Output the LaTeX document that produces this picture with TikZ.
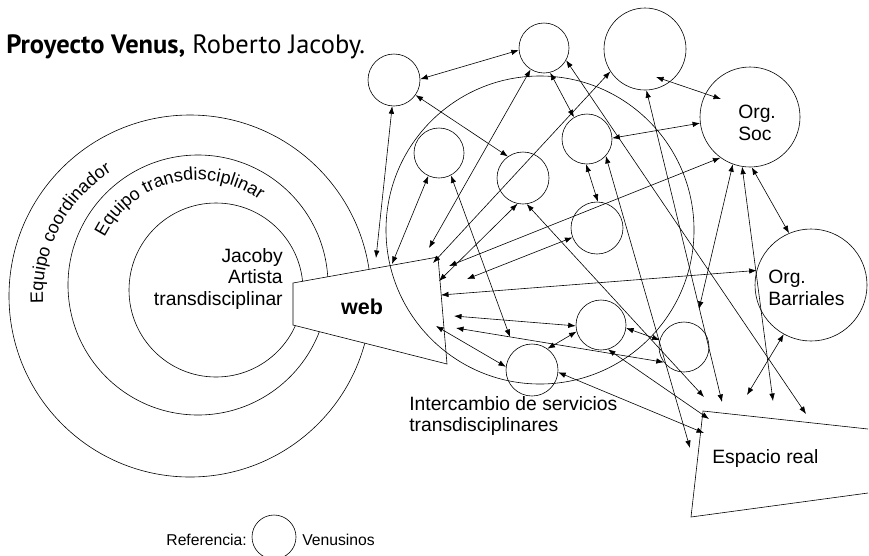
\documentclass[tikz,border=0pt]{standalone}
\usepackage{fontspec}
\setmainfont{Liberation Sans}
\newfontfamily\titlefont{PT Sans}
\usetikzlibrary{arrows.meta,decorations.text}

\tikzset{
  venus/.style={circle, draw, inner sep=0pt},
  link/.style={{Latex[length=7.5pt,width=5.5pt]}-{Latex[length=7.5pt,width=5.5pt]}},
  lbl/.style={font=\fontsize{19.3}{21.5}\selectfont, inner sep=0pt},
  legendtext/.style={font=\fontsize{15.7}{18}\selectfont, inner sep=0pt}
}

\begin{document}
\begin{tikzpicture}[x=1pt,y=-1pt,line width=0.6pt]
        \useasboundingbox (0,0) rectangle (869,555);

        % Draw the rings round the artist
        \node[venus, minimum size=362pt] (coordinador) at (190,296) {};
        \node[venus, minimum size=260pt] (equipo) at (198,285) {};
        \node[venus, minimum size=174pt] (artista) at (216,290) {};

        % Ring labels along the arcs
        \path[decorate, decoration={text along path,
            text={|\fontsize{18}{20}\selectfont|Equipo coordinador}}]
            plot[domain=177:250, samples=60] ({190+147*cos(\x)},{296+147*sin(\x)});
        \path[decorate, decoration={text along path,
            text={|\fontsize{18}{20}\selectfont|Equipo transdisciplinar}}]
            plot[domain=207:320, samples=60] ({198+105*cos(\x)},{285+105*sin(\x)});

        \node[lbl, align=right, anchor=east] (jacoby) at (283,279) {Jacoby\\Artista\\transdisciplinar};

        % Draw the web
        \draw[fill=white] (293,283) -- (438,257) -- (447,364) -- (293,325) -- cycle;
        \node[font=\bfseries\fontsize{21.5}{24}\selectfont, inner sep=0pt] (web) at (362,307) {web};

        % Draw the exchange circle and the Venusinos
        \node[venus, minimum size=308pt] (intercambio) at (540,230) {};
        \foreach \n/\x/\y/\d in {c1/394/80/52, c2/544/48/50, c3/645/49/82, c5/439/153/50,
                                 c6/523/178/52, c7/587/139/50, c8/597/228/52, c10/684/347/50,
                                 c11/601/325/50, c12/532/370/52} {
            \node[venus, minimum size=\d pt] (\n) at (\x,\y) {};
        }
        \node[venus, minimum size=100pt] (soc) at (750,117) {};
        \node[venus, minimum size=112pt] (barr) at (811,285) {};
        \node[lbl, align=left, anchor=west] (soclabel) at (738,123) {Org.\\Soc};
        \node[lbl, align=left, anchor=west] (barrlabel) at (768,288) {Org.\\Barriales};

        % Draw the real space
        \draw (868,429) -- (703,411) -- (691,517) -- (868,493);
        \node[lbl, anchor=west] (espacio) at (712,458) {Espacio real};

        % Free ends of the exchanges
        \coordinate (w1) at (376,258);
        \coordinate (w2) at (392,264);
        \coordinate (w3) at (510,337);
        \coordinate (w4) at (429,248);
        \coordinate (w5) at (433,263);
        \coordinate (w6) at (439,281);
        \coordinate (w7) at (467,279);
        \coordinate (w8) at (449,266);
        \coordinate (w10) at (441,295);
        \coordinate (w11) at (454,316);
        \coordinate (w12) at (456,328);
        \coordinate (w13) at (436,326);
        \coordinate (p1) at (699,309);
        \coordinate (h1) at (656,77);
        \coordinate (h2) at (721,99);
        \coordinate (e1) at (806,414);
        \coordinate (e2) at (722,402);
        \coordinate (e3) at (704,397);
        \coordinate (e4) at (690,448);
        \coordinate (e5) at (773,401);
        \coordinate (e6) at (747,395);
        \coordinate (e7) at (709,419);
        \coordinate (e8) at (704,433);

        % Draw the exchanges
        \foreach \a/\b in {c1.2/c2.185, c1.-35/c6.125, c1.-94/w1, c5.-115/w2, c5.-62/w3,
                           c2.-122/w4, c2.-76/c7.121, c2.-29/e1, c3.213/w5, h1/h2,
                           c3.-88/e2, c6.-102/w6, c6.-82/e3, c7.2/soc.187, c7.-92/c8.88,
                           c7.-42/e4, c8.201/w7, soc.234/w8, soc.250/p1, soc.261/e5,
                           soc.-88/barr.113, barr.165/w10, barr.241/e6, w11/c11.182,
                           w12/c10.217, w13/c12.173, c11.195/c12.54, c11.-7/c10.164,
                           c11.-74/e7, c12.-5/e8} {
            \draw[link] (\a) -- (\b);
        }

        \node[lbl, align=left, anchor=west] (intlabel) at (409,416) {Intercambio de servicios\\transdisciplinares};

        % Legend
        \node[venus, minimum size=44pt] (ref) at (274,537) {};
        \node[legendtext, anchor=east] (reflabel) at (247,540) {Referencia:};
        \node[legendtext, anchor=west] (venlabel) at (302,540) {Venusinos};

        % Add title
        \node[anchor=base west, inner sep=0pt, font=\titlefont\fontsize{26.5}{30}\selectfont] (title) at (6,53)
            {\textbf{Proyecto Venus,} Roberto Jacoby.};
    \end{tikzpicture}
\end{document}
